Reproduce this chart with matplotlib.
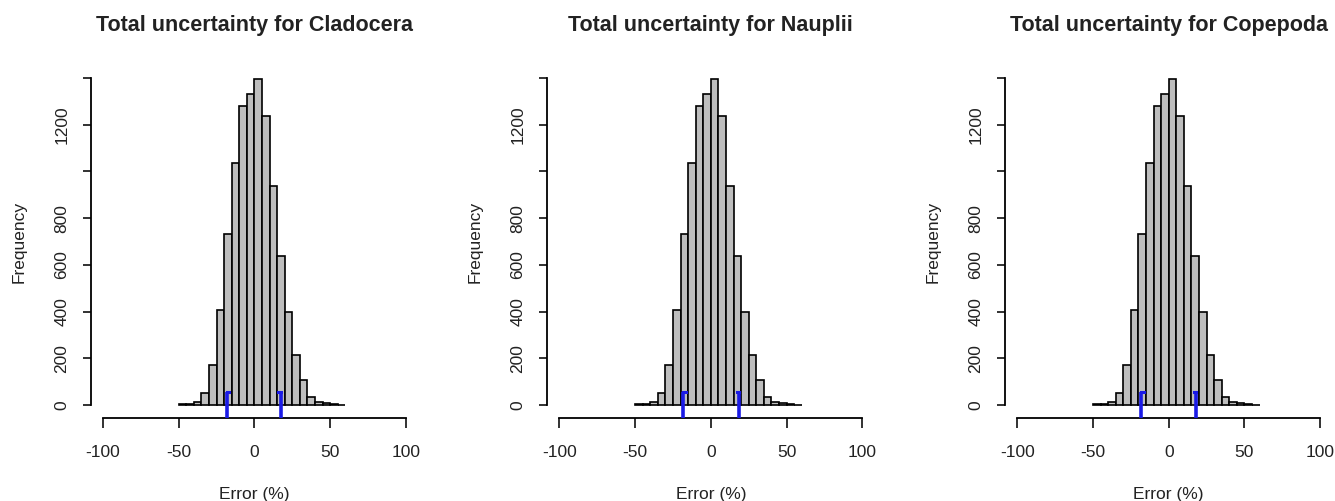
import numpy as np
import matplotlib
matplotlib.use('Agg')
from matplotlib import pyplot as plt

plt.rcParams['font.family'] = ['Liberation Sans', 'DejaVu Sans']

# histogram bins (Error %), width 5
bin_edges = np.arange(-50, 61, 5)

# counts per bin
counts_clad = [2, 5, 12, 50, 171, 407, 733, 1038, 1281, 1331, 1396,
               1239, 939, 640, 397, 214, 107, 36, 14, 7, 3, 1]
counts_naup = [2, 5, 12, 50, 171, 407, 733, 1038, 1281, 1331, 1396,
               1239, 939, 640, 397, 214, 107, 36, 14, 7, 3, 1]
counts_cope = [2, 5, 12, 50, 171, 407, 733, 1038, 1281, 1331, 1396,
               1239, 939, 640, 397, 214, 107, 36, 14, 7, 3, 1]

# blue marks (lower / upper limits)
limits_clad = [-18.3, 17.3]
limits_naup = [-18.2, 18.6]
limits_cope = [-18.1, 18.0]

names = ['Cladocera', 'Nauplii', 'Copepoda']
all_counts = [counts_clad, counts_naup, counts_cope]
all_limits = [limits_clad, limits_naup, limits_cope]

x_ticks = [-100, -50, 0, 50, 100]
y_ticks = [0, 200, 400, 600, 800, 1000, 1200, 1400]
y_labels = ['0', '200', '400', '600', '800', '', '1200', '']

W, H = 1335, 501
fig = plt.figure(figsize=(W / 100, H / 100), dpi=100)

centers = [254.4, 710.8, 1168.7]   # pixel x of zero
half_w = 163.6
top, bottom = 66, 418

for i in range(3):
    left = centers[i] - half_w
    ax = fig.add_axes([left / W, (H - bottom) / H, 2 * half_w / W, (bottom - top) / H])
    counts = all_counts[i]
    ax.bar(bin_edges[:-1], counts, width=5, align='edge', color='#BEBEBE',
           edgecolor='black', linewidth=1.2, zorder=2)
    ymax = max(counts)
    ext = 0.04 * ymax
    ax.set_xlim(-108, 108)
    ax.set_ylim(-ext, ymax + ext)

    for k, lim in enumerate(all_limits[i]):
        ax.plot([lim, lim], [-ext, 55], color='#1a1ae6', lw=2.6, zorder=3,
                solid_capstyle='butt')
        d = 1.6 if k == 0 else -1.6
        ax.plot([lim, lim + d], [55, 55], color='#1a1ae6', lw=2.2, zorder=3)

    for s in ['top', 'right']:
        ax.spines[s].set_visible(False)
    ax.spines['left'].set_bounds(0, 1400)
    ax.spines['bottom'].set_bounds(-100, 100)
    for s in ['left', 'bottom']:
        ax.spines[s].set_linewidth(1.3)

    ax.set_xticks(x_ticks)
    ax.set_xticklabels([str(v) for v in x_ticks])
    ax.set_yticks(y_ticks)
    ax.set_yticklabels(y_labels, rotation=90, va='center')
    ax.tick_params(axis='x', length=7.2, width=1.3, pad=12.5, labelsize=12.5, colors='#222222')
    ax.tick_params(axis='y', length=6, width=1.3, pad=9.6, labelsize=12.5, colors='#222222')

    ax.set_xlabel('Error (%)', fontsize=12.5, labelpad=19, color='#222222')
    ax.set_ylabel('Frequency', fontsize=12.5, labelpad=20, color='#222222')
    ax.set_title('Total uncertainty for ' + names[i], fontsize=15.5, fontweight='bold',
                 pad=25, color='#222222')

fig.savefig('out.png', dpi=100)
